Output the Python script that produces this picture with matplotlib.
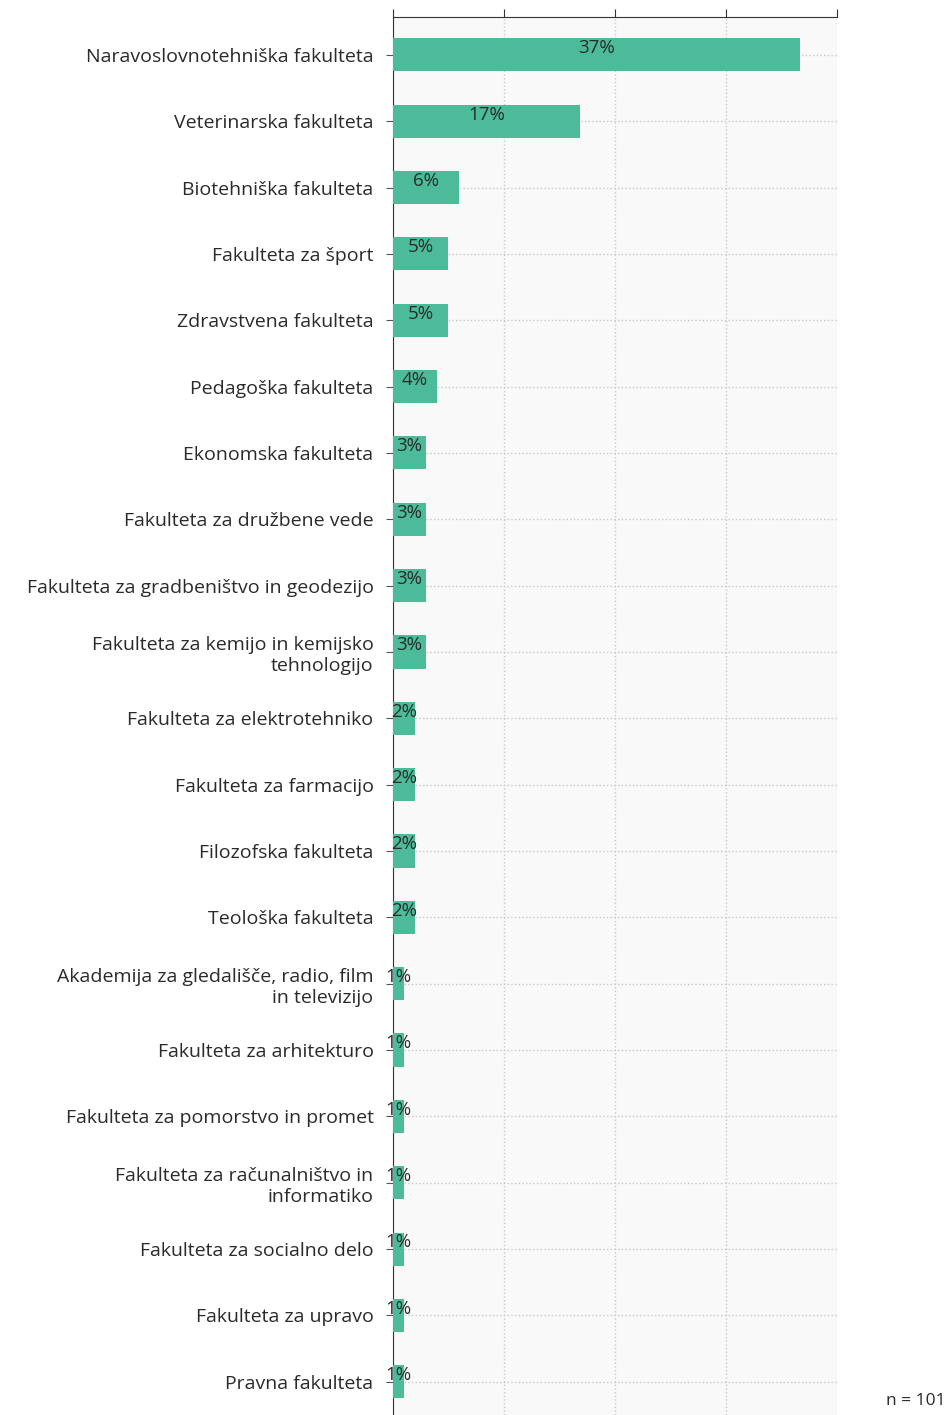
import matplotlib
matplotlib.use('Agg')
import matplotlib.pyplot as plt
import numpy as np

plt.rcParams['font.family'] = ['Open Sans', 'DejaVu Sans']

# podatki
fakultete = [
    "Naravoslovnotehniška fakulteta",
    "Veterinarska fakulteta",
    "Biotehniška fakulteta",
    "Fakulteta za šport",
    "Zdravstvena fakulteta",
    "Pedagoška fakulteta",
    "Ekonomska fakulteta",
    "Fakulteta za družbene vede",
    "Fakulteta za gradbeništvo in geodezijo",
    "Fakulteta za kemijo in kemijsko\ntehnologijo",
    "Fakulteta za elektrotehniko",
    "Fakulteta za farmacijo",
    "Filozofska fakulteta",
    "Teološka fakulteta",
    "Akademija za gledališče, radio, film\nin televizijo",
    "Fakulteta za arhitekturo",
    "Fakulteta za pomorstvo in promet",
    "Fakulteta za računalništvo in\ninformatiko",
    "Fakulteta za socialno delo",
    "Fakulteta za upravo",
    "Pravna fakulteta",
]
stevilo = [37, 17, 6, 5, 5, 4, 3, 3, 3, 3, 2, 2, 2, 2, 1, 1, 1, 1, 1, 1, 1]
n = 101
odstotki = np.array(stevilo) / n * 100

fig = plt.figure(figsize=(9.5, 14.15), dpi=100)
ax = fig.add_axes([0.4137, 0.0, 0.4674, 0.988])
ax.set_facecolor('#f9f9f9')

y = np.arange(len(fakultete))
ax.barh(y, odstotki, height=0.5, color='#4cbb9a', zorder=3)

# oznake na stolpcih
for yi, v in zip(y, odstotki):
    ax.text(v / 2, yi - 0.1, f"{v:.0f}%", ha='center', va='center',
            fontsize=13.5, color='#2a2a2a', zorder=4)

ax.set_xlim(0, 40)
ax.set_xticks([0, 10, 20, 30, 40])
ax.set_xticklabels([])
ax.xaxis.tick_top()
ax.tick_params(axis='x', direction='out', length=6, color='#333333')
ax.set_ylim(len(fakultete) - 0.5, -0.57)
ax.set_yticks(y)
ax.set_yticklabels(fakultete, fontsize=14, color='#2a2a2a')
ax.tick_params(axis='y', length=5, pad=9, color='#555555')

ax.grid(True, linestyle=':', color='#c8c8c8', linewidth=1, zorder=0)

for s in ['right', 'bottom']:
    ax.spines[s].set_visible(False)
ax.spines['left'].set_color('#333333')
ax.spines['top'].set_color('#333333')

fig.text(0.995, 0.004, f"n = {n}", ha='right', va='bottom', fontsize=12.5, color='#2a2a2a')

plt.savefig('out.png', dpi=100)
